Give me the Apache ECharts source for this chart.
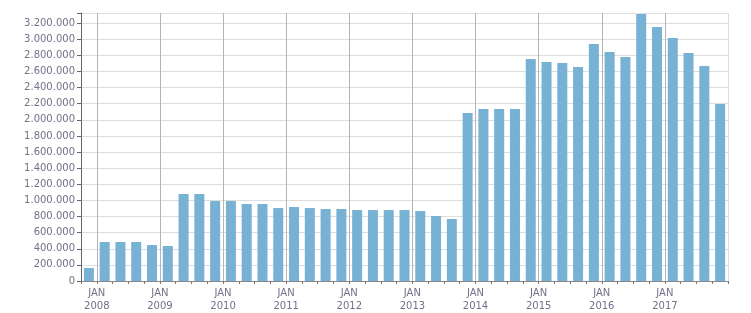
<!DOCTYPE html>
<html>
<head>
<meta charset="utf-8">
<script src="https://cdn.jsdelivr.net/npm/echarts@6/dist/echarts.min.js"></script>
<style>
  html, body { margin: 0; padding: 0; background: #fff; }
  #chart { width: 751px; height: 313px; }
</style>
</head>
<body>
<div id="chart"></div>
<script>
// quarters, oldest first
var quarters = [
  '2007-Q4',
  '2008-Q1', '2008-Q2', '2008-Q3', '2008-Q4',
  '2009-Q1', '2009-Q2', '2009-Q3', '2009-Q4',
  '2010-Q1', '2010-Q2', '2010-Q3', '2010-Q4',
  '2011-Q1', '2011-Q2', '2011-Q3', '2011-Q4',
  '2012-Q1', '2012-Q2', '2012-Q3', '2012-Q4',
  '2013-Q1', '2013-Q2', '2013-Q3', '2013-Q4',
  '2014-Q1', '2014-Q2', '2014-Q3', '2014-Q4',
  '2015-Q1', '2015-Q2', '2015-Q3', '2015-Q4',
  '2016-Q1', '2016-Q2', '2016-Q3', '2016-Q4',
  '2017-Q1', '2017-Q2', '2017-Q3', '2017-Q4'
];
var values = [
  161000,
  484000, 484000, 484000, 446000,
  434000, 1079000, 1079000, 992000,
  992000, 955000, 955000, 905000,
  918000, 905000, 893000, 893000,
  880000, 880000, 880000, 880000,
  868000, 806000, 769000, 2084000,
  2133000, 2133000, 2133000, 2753000,
  2716000, 2704000, 2654000, 2940000,
  2840000, 2778000, 3312000, 3150000,
  3014000, 2828000, 2667000, 2195000
];
var yearLabels = [2008, 2009, 2010, 2011, 2012, 2013, 2014, 2015, 2016, 2017];

// x axis runs in months counted from JAN 2007; each bar sits mid-quarter
var BASE = 2007;
function quarterMid(q) {
  var p = q.split('-Q');
  return (parseInt(p[0], 10) - BASE) * 12 + (parseInt(p[1], 10) - 1) * 3 + 1.5;
}
var data = quarters.map(function (q, i) { return [quarterMid(q), values[i]]; });

function fmt(v) {
  return String(v).replace(/\B(?=(\d{3})+(?!\d))/g, '.');
}

var xMin = 9;    // OCT 2007
var xMax = 132;  // JAN 2018

var yearLines = yearLabels.map(function (y) {
  return { xAxis: (y - BASE) * 12 };
});
yearLines.push({ xAxis: xMax, lineStyle: { color: '#dddddd' } });

var labelColor = '#72708a';
var font = 'DejaVu Sans';

var myChart = echarts.init(document.getElementById('chart'));
var option = {
  animation: false,
  grid: { left: 81, right: 23, top: 13, bottom: 32, containLabel: false },
  xAxis: {
    type: 'value',
    min: xMin,
    max: xMax,
    interval: 3,
    axisLine: { show: true, lineStyle: { color: '#888888', width: 1 } },
    axisTick: { show: true, length: 3, lineStyle: { color: '#777777' } },
    splitLine: { show: false },
    axisLabel: {
      color: labelColor,
      fontFamily: font,
      fontSize: 10,
      lineHeight: 13,
      margin: 6,
      formatter: function (v) {
        if (v >= 12 && v < xMax && v % 12 === 0) return 'JAN\n' + (BASE + v / 12);
        return '';
      }
    }
  },
  yAxis: {
    type: 'value',
    min: 0,
    max: 3325000,
    interval: 200000,
    axisLine: { show: true, lineStyle: { color: '#666666', width: 1 } },
    axisTick: { show: true, length: 4, lineStyle: { color: '#666666' } },
    splitLine: { show: true, lineStyle: { color: '#dddddd', width: 1 } },
    axisLabel: {
      color: labelColor,
      fontFamily: font,
      fontSize: 10,
      margin: 6,
      formatter: function (v) {
        return v % 200000 === 0 ? fmt(v) : '';
      }
    }
  },
  series: [{
    type: 'bar',
    data: data,
    barWidth: 10,
    itemStyle: { color: '#77b1d3' },
    markLine: {
      silent: true,
      symbol: ['none', 'none'],
      label: { show: false },
      lineStyle: { color: '#b4b4b4', type: 'solid', width: 1 },
      data: yearLines
    }
  }]
};
myChart.setOption(option);
</script>
</body>
</html>
